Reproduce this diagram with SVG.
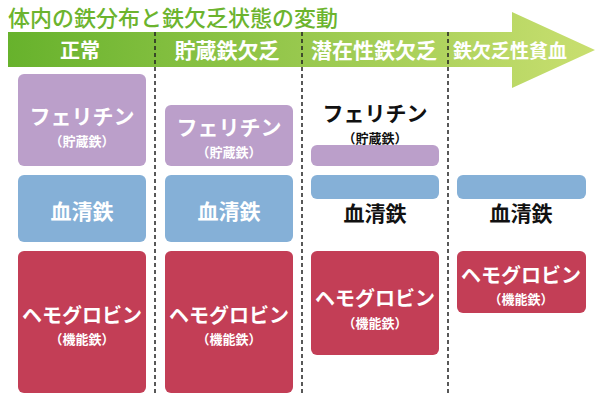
<svg xmlns="http://www.w3.org/2000/svg" width="600" height="400" viewBox="0 0 600 400">
<defs>
<linearGradient id="band" x1="8" y1="0" x2="595" y2="0" gradientUnits="userSpaceOnUse">
<stop offset="0" stop-color="#67b22c"/>
<stop offset="1" stop-color="#c9df70"/>
</linearGradient>
<style>
text{font-family:"Noto Sans CJK JP","Noto Sans",sans-serif;text-anchor:middle;font-weight:bold}
.w{fill:#fff}
.k{fill:#111}
.big{font-size:21px}
.sm{font-size:13px}
.fer{fill:#bb9fca}
.ser{fill:#85b0d7}
.hb{fill:#c33e56}
.div{stroke:#222;stroke-width:1.5;stroke-dasharray:4 3;fill:none}
</style>
</defs>
<rect width="600" height="400" fill="#fff"/>
<text x="8" y="26" style="text-anchor:start;font-size:22px;font-weight:500" fill="#6cb42e">体内の鉄分布と鉄欠乏状態の変動</text>
<g id="arrow">
<polygon points="8,32 512,32 512,12 595,50 512,88 512,67 8,67" fill="url(#band)"/>
</g>
<g id="connectors">
<line class="div" x1="155" y1="32" x2="155" y2="395"/>
<line class="div" x1="302" y1="32" x2="302" y2="395"/>
<line class="div" x1="448" y1="32" x2="448" y2="395"/>
</g>
<g id="headers">
<text class="w" x="80" y="58" style="font-size:20px">正常</text>
<text class="w" x="227" y="58" style="font-size:21px">貯蔵鉄欠乏</text>
<text class="w" x="374" y="58" style="font-size:21px">潜在性鉄欠乏</text>
<text class="w" x="510" y="58" style="font-size:19px">鉄欠乏性貧血</text>
</g>
<g id="col1-ferritin">
<rect class="fer" x="18" y="74" width="128" height="92" rx="6"/>
<text class="w big" x="82" y="124">フェリチン</text>
<text class="w sm" x="82" y="146">（貯蔵鉄）</text>
</g>
<g id="col1-serum">
<rect class="ser" x="18" y="175" width="128" height="67" rx="6"/>
<text class="w big" x="82" y="219">血清鉄</text>
</g>
<g id="col1-hb">
<rect class="hb" x="18" y="251" width="128" height="142" rx="6"/>
<text class="w" x="82" y="323" style="font-size:20px">ヘモグロビン</text>
<text class="w sm" x="82" y="344">（機能鉄）</text>
</g>
<g id="col2-ferritin">
<rect class="fer" x="165" y="105" width="128" height="61" rx="6"/>
<text class="w big" x="229" y="135">フェリチン</text>
<text class="w sm" x="229" y="157">（貯蔵鉄）</text>
</g>
<g id="col2-serum">
<rect class="ser" x="165" y="175" width="128" height="67" rx="6"/>
<text class="w big" x="229" y="219">血清鉄</text>
</g>
<g id="col2-hb">
<rect class="hb" x="165" y="251" width="128" height="142" rx="6"/>
<text class="w" x="229" y="323" style="font-size:20px">ヘモグロビン</text>
<text class="w sm" x="229" y="344">（機能鉄）</text>
</g>
<g id="col3-ferritin">
<text class="k big" x="375" y="121">フェリチン</text>
<text class="k sm" x="375" y="143">（貯蔵鉄）</text>
<rect class="fer" x="311" y="145" width="128" height="21" rx="6"/>
</g>
<g id="col3-serum">
<rect class="ser" x="311" y="175" width="128" height="24" rx="6"/>
<text class="k big" x="375" y="221">血清鉄</text>
</g>
<g id="col3-hb">
<rect class="hb" x="311" y="251" width="128" height="104" rx="6"/>
<text class="w" x="375" y="306" style="font-size:20px">ヘモグロビン</text>
<text class="w sm" x="375" y="328">（機能鉄）</text>
</g>
<g id="col4-serum">
<rect class="ser" x="457" y="175" width="129" height="24" rx="6"/>
<text class="k big" x="521" y="221">血清鉄</text>
</g>
<g id="col4-hb">
<rect class="hb" x="457" y="251" width="129" height="62" rx="6"/>
<text class="w" x="521" y="283" style="font-size:20px">ヘモグロビン</text>
<text class="w sm" x="521" y="304">（機能鉄）</text>
</g>
</svg>
